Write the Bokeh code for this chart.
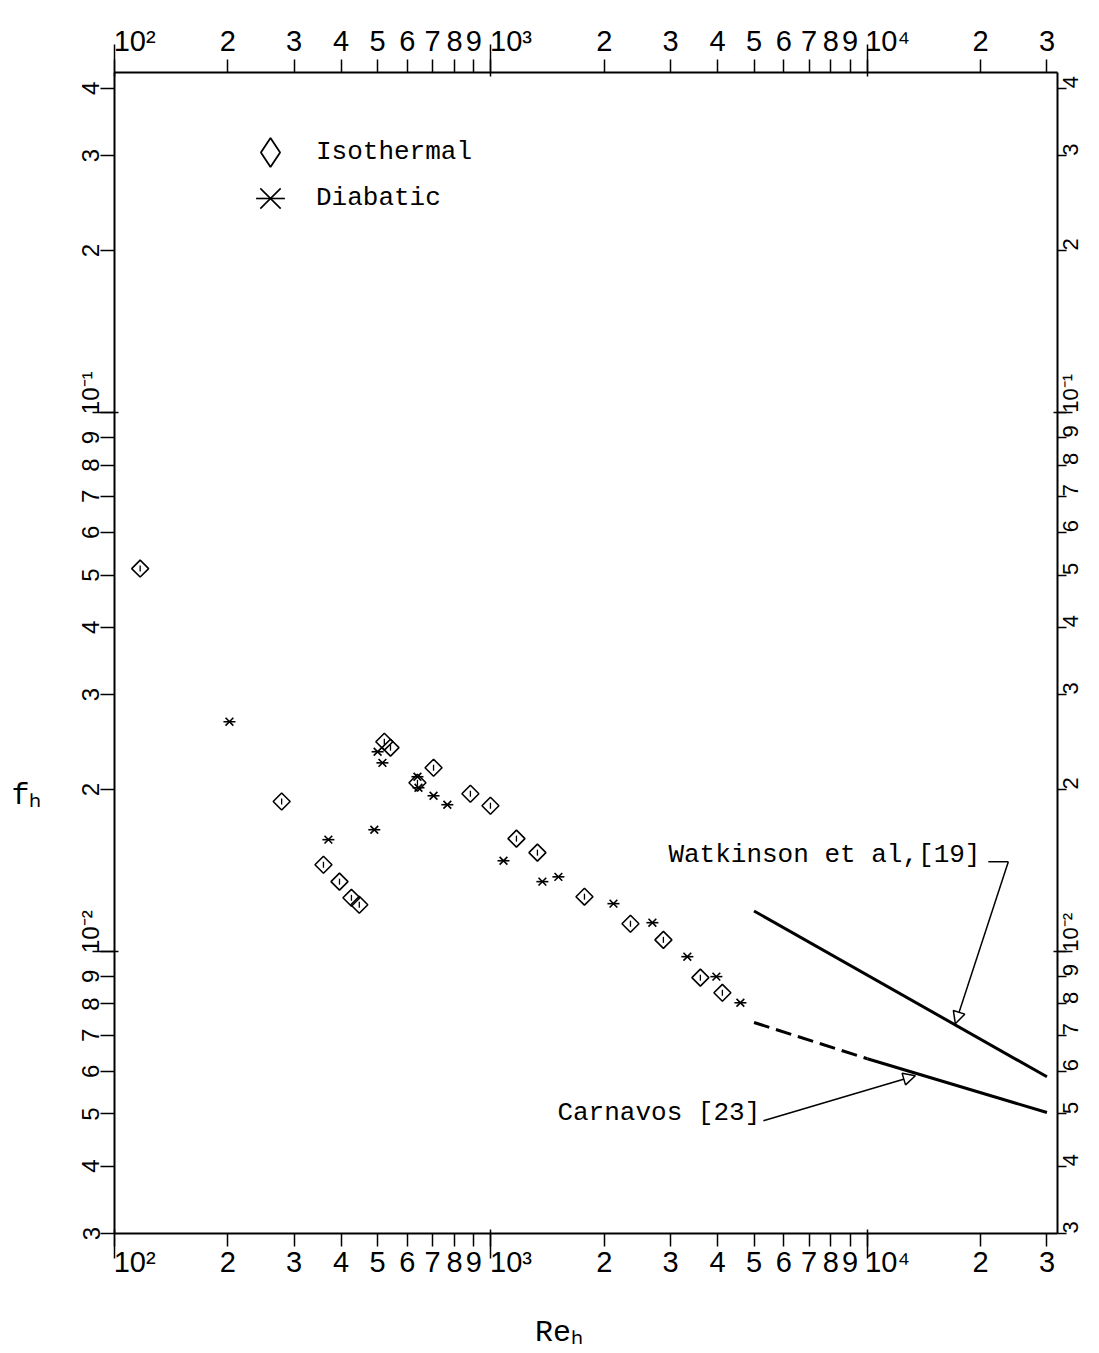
import math
from bokeh.plotting import figure
from bokeh.models import (LogAxis, Axis, FixedTicker, CustomJSTickFormatter, Label, Arrow,
                          NormalHead, Legend, LegendItem, AllLabels, ColumnDataSource)
from bokeh.embed import file_html
from bokeh.resources import INLINE

# ---------------- data ----------------
re_iso = [117, 278, 359, 396, 426, 447, 521, 541, 638, 704, 882, 997, 1169, 1329,
          1772, 2348, 2872, 3601, 4120]
f_iso = [0.0514, 0.0190, 0.0145, 0.01349, 0.01259, 0.01222, 0.02453, 0.02391, 0.02058,
         0.02195, 0.01964, 0.01866, 0.01621, 0.01527, 0.01265, 0.01127, 0.01052,
         0.00895, 0.00839]

re_dia = [202, 370, 490, 500, 515, 638, 642, 704, 766, 1080, 1370, 1511, 2116, 2685,
          3325, 3971, 4600]
f_dia = [0.02672, 0.01614, 0.01684, 0.02350, 0.02241, 0.02112, 0.02015, 0.01947,
         0.01874, 0.01475, 0.01349, 0.01377, 0.01228, 0.01132, 0.00979, 0.00899, 0.00804]

re_watkinson = [5000, 30000]
f_watkinson = [0.0119, 0.00586]

re_carnavos_dashed = [5000, 10000]
f_carnavos_dashed = [0.00739, 0.00633]
re_carnavos_solid = [10000, 30000]
f_carnavos_solid = [0.00633, 0.00503]

# tick values
x_decades = [100, 1000, 10000]
x_ticks = [m * 10 ** e for e in (2, 3) for m in range(1, 10)] + [10000, 20000, 30000]
y_decades = [0.01, 0.1]
y_ticks = ([m / 1000 for m in range(3, 10)] + [m / 100 for m in range(1, 10)]
           + [m / 10 for m in range(1, 5)])

# ---------------- layout helpers (page pixel -> data, for annotations only) ----------------
X0, XDEC = 114.0, 376.5
Y1, YDEC = 412.0, 539.0


def X(px):
    return 10 ** (2 + (px - X0) / XDEC)


def Y(py):
    return 10 ** (-1 - (py - Y1) / YDEC)


MONO = "Liberation Mono"
SANS = "Liberation Sans"
NBSP = "\u00a0"

p = figure(width=1099, height=1353, x_axis_type="log", y_axis_type="log",
           x_range=(100, 32000), y_range=(0.003, 0.428),
           output_backend="svg", toolbar_location=None,
           min_border_left=114, min_border_right=42, min_border_top=72,
           min_border_bottom=120)
p.xgrid.visible = False
p.ygrid.visible = False
p.outline_line_color = None
p.background_fill_color = "white"
p.border_fill_color = "white"


def make_formatter(npad):
    code = """
const e = Math.floor(Math.log10(tick) + 1e-9);
const m = Math.round(tick / Math.pow(10, e));
if (m !== 1) return String(m);
const sup = {"-": "\\u207b", "0": "\\u2070", "1": "\\u00b9", "2": "\\u00b2",
             "3": "\\u00b3", "4": "\\u2074", "5": "\\u2075"};
let s = "";
for (const c of String(e)) s += sup[c];
return "\\u00a0".repeat(%d) + "10" + s;
""" % npad
    return CustomJSTickFormatter(code=code)


def style_axis(ax, ticks, decades, tick_out, dec_out, standoff, font_px, npad,
               orientation=None):
    ax.ticker = FixedTicker(ticks=ticks, minor_ticks=decades)
    ax.formatter = make_formatter(npad)
    ax.major_label_policy = AllLabels()
    ax.axis_line_width = 2
    ax.axis_line_color = "black"
    ax.major_tick_line_width = 1.5
    ax.major_tick_line_color = "black"
    ax.major_tick_out = tick_out
    ax.major_tick_in = 0
    ax.minor_tick_line_width = 1.5
    ax.minor_tick_line_color = "black"
    ax.minor_tick_out = dec_out
    ax.minor_tick_in = 4
    ax.major_label_standoff = standoff
    ax.major_label_text_font = SANS
    ax.major_label_text_font_size = "%dpx" % font_px
    ax.major_label_text_color = "black"
    if orientation is not None:
        ax.major_label_orientation = orientation


bottom = p.xaxis[0]
left = p.yaxis[0]
style_axis(bottom, x_ticks, x_decades, 13, 25, -13, 29, 5)
style_axis(left, y_ticks, y_decades, 14, 22, -12, 24, 6, orientation="vertical")

top = LogAxis()
style_axis(top, x_ticks, x_decades, 13, 28, -12, 29, 5)
p.add_layout(top, "above")

right = LogAxis()
style_axis(right, y_ticks, y_decades, 9, 15, -2, 22, 0, orientation=math.pi / 2)
p.add_layout(right, "right")

# axis titles (f_h on the left, Re_h below)
bottom.axis_label = "Re\u2095" + NBSP * 3
bottom.axis_label_text_font = MONO
bottom.axis_label_text_font_size = "30px"
bottom.axis_label_text_font_style = "normal"
bottom.axis_label_text_color = "black"
bottom.axis_label_standoff = 35

left.axis_label_text_font = MONO
left.axis_label_text_font_size = "30px"
left.axis_label_text_font_style = "normal"
left.axis_label_text_color = "black"
if "axis_label_orientation" in Axis.properties():
    left.axis_label_orientation = "horizontal"
    left.axis_label = "\n" * 7 + "f\u2095"
    left.axis_label_standoff = 33
else:
    left.axis_label = "f\u2095"
    left.axis_label_standoff = 33

# ---------------- data marks ----------------
src_iso = ColumnDataSource(dict(x=re_iso, y=f_iso))
src_dia = ColumnDataSource(dict(x=re_dia, y=f_dia))

iso = p.scatter("x", "y", source=src_iso, marker="square", angle=math.pi / 4, size=12,
                fill_color=None, line_color="black", line_width=1.6)
iso_tick = p.scatter("x", "y", source=src_iso, marker="dash", angle=math.pi / 2, size=6,
                     line_color="black", line_width=1.3)
iso_key = p.scatter("x", "y", source=src_iso, marker="diamond", size=12,
                    fill_color=None, line_color="black", line_width=1.8, visible=False)
dia_x = p.scatter("x", "y", source=src_dia, marker="x", size=11,
                  line_color="black", line_width=1.6)
dia_bar = p.scatter("x", "y", source=src_dia, marker="dash", size=12,
                    line_color="black", line_width=1.6)

p.line(re_watkinson, f_watkinson, line_width=3, line_color="black")
p.line(re_carnavos_dashed, f_carnavos_dashed, line_width=3, line_color="black",
       line_dash="16 7")
p.line(re_carnavos_solid, f_carnavos_solid, line_width=3, line_color="black")

# ---------------- annotations ----------------
p.add_layout(Label(x=X(668), y=Y(869), text="Watkinson et al,[19]", text_font=MONO,
                   text_font_size="26px", text_color="black"))
p.add_layout(Arrow(end=None, x_start=X(988), y_start=Y(861), x_end=X(1008), y_end=Y(861),
                   line_width=1.5, line_color="black"))
p.add_layout(Arrow(end=NormalHead(size=12, fill_color="white", line_width=1.5),
                   x_start=X(1008), y_start=Y(861), x_end=X(955), y_end=Y(1023),
                   line_width=1.5, line_color="black"))

p.add_layout(Label(x=X(557), y=Y(1127), text="Carnavos [23]", text_font=MONO,
                   text_font_size="26px", text_color="black"))
p.add_layout(Arrow(end=NormalHead(size=12, fill_color="white", line_width=1.5),
                   x_start=X(763), y_start=Y(1120), x_end=X(915), y_end=Y(1075),
                   line_width=1.5, line_color="black"))


def key(label, renderers, loc):
    return Legend(items=[LegendItem(label=label, renderers=renderers)],
                  location=loc, orientation="vertical", glyph_width=72,
                  glyph_height=72, spacing=0, padding=0, margin=0, label_standoff=10,
                  label_text_font=MONO, label_text_font_size="26px",
                  label_text_color="black", inactive_fill_alpha=0,
                  border_line_color=None, background_fill_alpha=0)


p.add_layout(key("Isothermal", [iso_key], (120, 1045)))
p.add_layout(key("Diabatic", [dia_x, dia_bar], (120, 999)))

open("out.html", "w").write(file_html(p, INLINE))
